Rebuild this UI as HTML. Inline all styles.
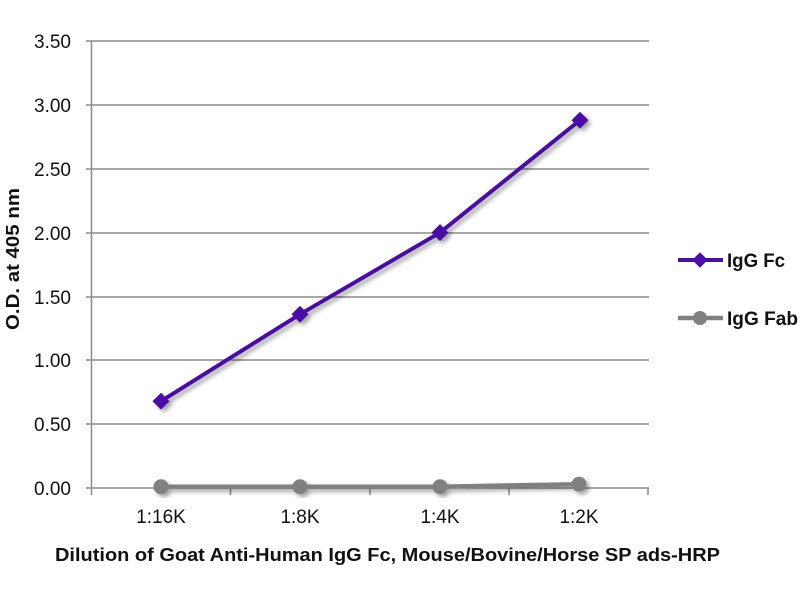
<!DOCTYPE html>
<html><head><meta charset="utf-8"><style>
html,body{margin:0;padding:0;background:#fff;}
svg{display:block;}
text{font-family:"Liberation Sans",sans-serif;fill:#111;}
</style></head><body>
<svg width="800" height="600" viewBox="0 0 800 600" xmlns="http://www.w3.org/2000/svg">
<defs>
<filter id="sh" x="-20%" y="-20%" width="140%" height="140%">
<feDropShadow dx="3" dy="3" stdDeviation="2" flood-color="#000" flood-opacity="0.35"/>
</filter>
</defs>
<rect width="800" height="600" fill="#fff"/>
<g stroke="#8c8c8c" stroke-width="1.5" fill="none">
<line x1="86" y1="41" x2="649" y2="41"/>
<line x1="86" y1="105" x2="649" y2="105"/>
<line x1="86" y1="169" x2="649" y2="169"/>
<line x1="86" y1="233" x2="649" y2="233"/>
<line x1="86" y1="297" x2="649" y2="297"/>
<line x1="86" y1="360" x2="649" y2="360"/>
<line x1="86" y1="424" x2="649" y2="424"/>
<line x1="86" y1="488" x2="649" y2="488"/>
<line x1="91.5" y1="41" x2="91.5" y2="495"/>
<line x1="230.5" y1="488" x2="230.5" y2="495"/>
<line x1="370" y1="488" x2="370" y2="495"/>
<line x1="509" y1="488" x2="509" y2="495"/>
<line x1="648" y1="488" x2="648" y2="495"/>
</g>
<g font-size="19" text-anchor="end">
<text x="71" y="48">3.50</text>
<text x="71" y="112">3.00</text>
<text x="71" y="176">2.50</text>
<text x="71" y="240">2.00</text>
<text x="71" y="304">1.50</text>
<text x="71" y="367">1.00</text>
<text x="71" y="431">0.50</text>
<text x="71" y="495">0.00</text>
</g>
<g font-size="19" text-anchor="middle">
<text x="161" y="523">1:16K</text>
<text x="300" y="523">1:8K</text>
<text x="440" y="523">1:4K</text>
<text x="579" y="523">1:2K</text>
</g>
<text x="55" y="561" font-size="18.5" font-weight="bold" textLength="665" lengthAdjust="spacingAndGlyphs">Dilution of Goat Anti-Human IgG Fc, Mouse/Bovine/Horse SP ads-HRP</text>
<text transform="translate(19,330) rotate(-90)" font-size="18" font-weight="bold" textLength="142" lengthAdjust="spacingAndGlyphs">O.D. at 405 nm</text>
<g filter="url(#sh)">
<polyline points="161,486.7 300,486.7 440,486.7 579,484.2" fill="none" stroke="#808080" stroke-width="4.5" stroke-linejoin="round"/>
<g fill="#808080">
<circle cx="161" cy="486.7" r="7.5"/>
<circle cx="300" cy="486.7" r="7.5"/>
<circle cx="440" cy="486.7" r="7.5"/>
<circle cx="579" cy="484.2" r="7.5"/>
</g>
</g>
<g filter="url(#sh)">
<polyline points="161,401.2 300,314.3 440,232.6 580,120.2" fill="none" stroke="#4a10a6" stroke-width="4" stroke-linejoin="round"/>
<g fill="#4a10a6">
<rect x="-6" y="-6" width="12" height="12" transform="translate(161,401.2) rotate(45)"/>
<rect x="-6" y="-6" width="12" height="12" transform="translate(300,314.3) rotate(45)"/>
<rect x="-6" y="-6" width="12" height="12" transform="translate(440,232.6) rotate(45)"/>
<rect x="-6" y="-6" width="12" height="12" transform="translate(580,120.2) rotate(45)"/>
</g>
</g>
<line x1="678" y1="260" x2="723" y2="260" stroke="#4a10a6" stroke-width="4"/>
<rect x="-5.5" y="-5.5" width="11" height="11" fill="#4a10a6" transform="translate(700,260) rotate(45)"/>
<text x="727" y="267" font-size="19" font-weight="bold" textLength="58" lengthAdjust="spacingAndGlyphs">IgG Fc</text>
<line x1="678" y1="318" x2="723" y2="318" stroke="#808080" stroke-width="4.5"/>
<circle cx="700" cy="318" r="7" fill="#808080"/>
<text x="727" y="325" font-size="19" font-weight="bold" textLength="71" lengthAdjust="spacingAndGlyphs">IgG Fab</text>
</svg>
</body></html>
